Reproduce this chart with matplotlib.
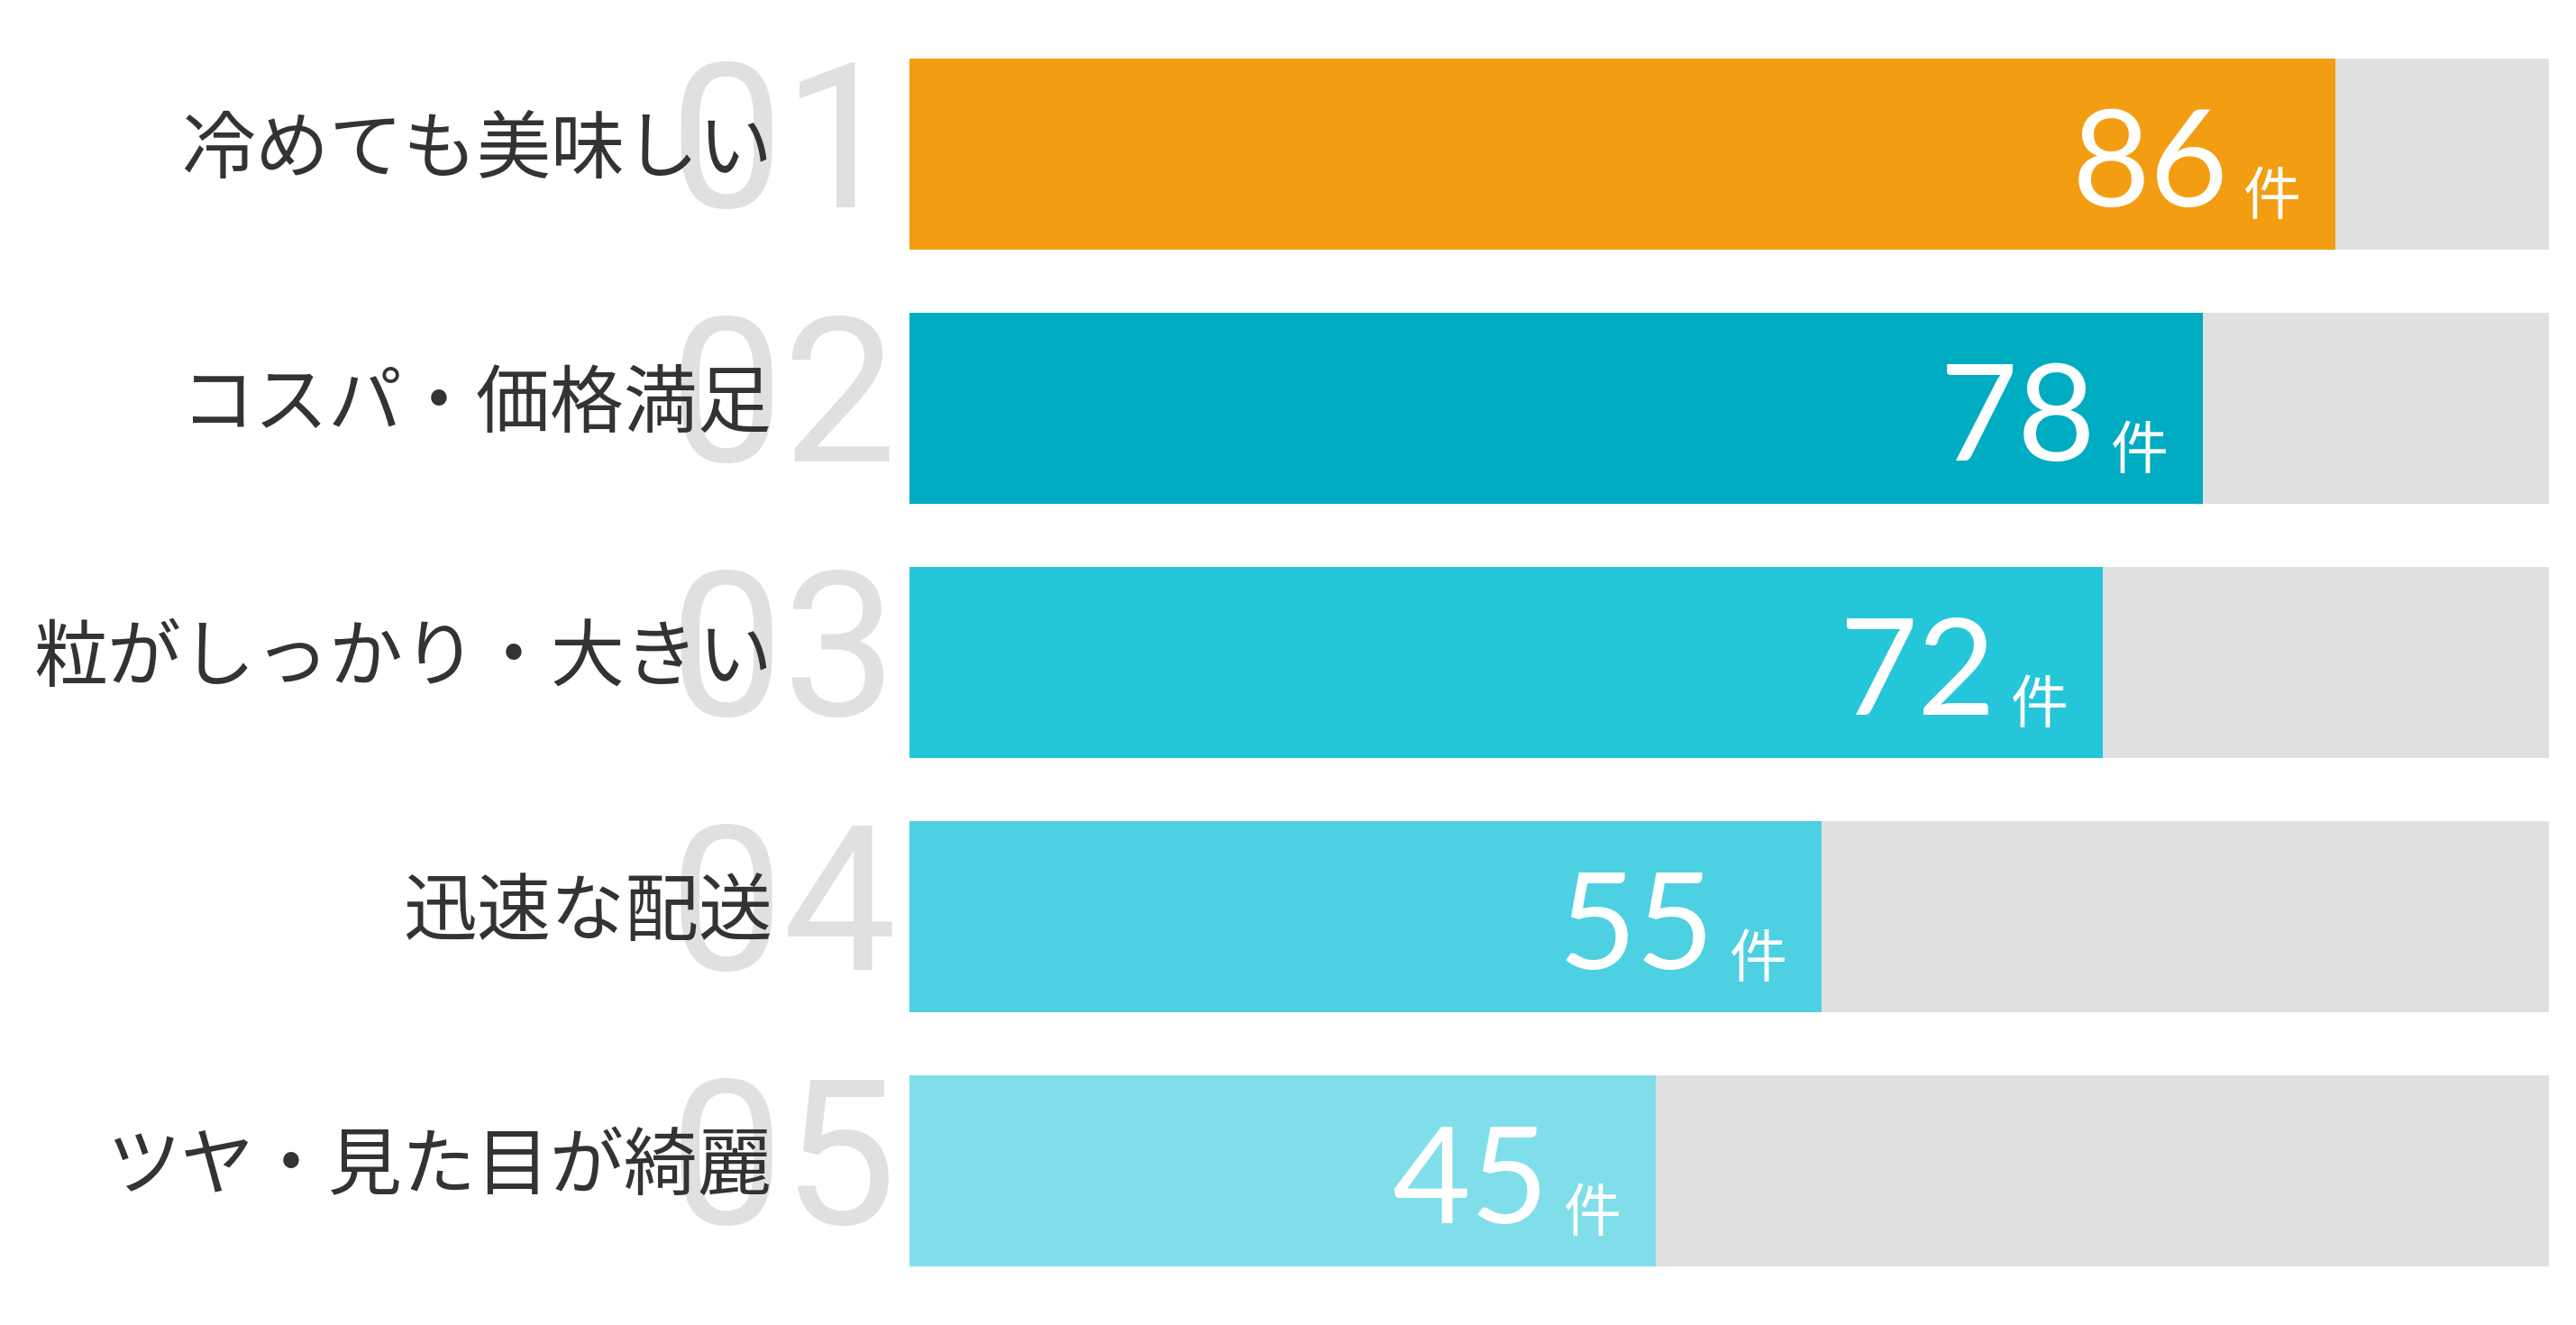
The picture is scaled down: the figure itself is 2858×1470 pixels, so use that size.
import matplotlib
matplotlib.use("Agg")
import matplotlib.pyplot as plt

categories = ["冷めても美味しい", "コスパ・価格満足", "粒がしっかり・大きい", "迅速な配送", "ツヤ・見た目が綺麗"]
ranks = ["01", "02", "03", "04", "05"]
values = [86, 78, 72, 55, 45]
unit = "件"
track_max = 98.9
colors = ["#F39D12", "#00ACC1", "#26C6DA", "#4DD0E1", "#80DEEA"]
track_color = "#E0E0E0"

W, H, DPI = 2858, 1470, 100
fig = plt.figure(figsize=(W / DPI, H / DPI), dpi=DPI)
fig.patch.set_facecolor("white")

px = 72.0 / DPI  # points per pixel

left_px, right_px = 1009, 2828
top_px, bottom_px = 65, 1405
ax = fig.add_axes([left_px / W, 1 - bottom_px / H, (right_px - left_px) / W, (bottom_px - top_px) / H])

bar_h = 212 / 282
ys = list(range(len(values)))
ax.barh(ys, [track_max] * len(values), height=bar_h, color=track_color, zorder=1)
ax.barh(ys, values, height=bar_h, color=colors, zorder=2)
ax.set_xlim(0, track_max)
ax.set_ylim(len(values) - 1 + bar_h / 2, -bar_h / 2)
ax.axis("off")

rank_font = ["Roboto", "DejaVu Sans"]
num_font = ["Lato", "DejaVu Sans"]
jp_font = ["Noto Sans CJK JP", "DejaVu Sans"]

for i, (cat, rk, v) in enumerate(zip(categories, ranks, values)):
    # big rank number
    ax.annotate(rk, xy=(0, i), xycoords="data", xytext=(-14 * px, -59 * px), textcoords="offset points",
                ha="right", va="baseline", fontsize=162, color="#E0E0E0", family=rank_font,
                fontweight="normal", annotation_clip=False, zorder=3)
    # category label
    ax.annotate(cat, xy=(0, i), xycoords="data", xytext=(-152 * px, 4 * px), textcoords="offset points",
                ha="right", va="center", fontsize=59, color="#333333", family=jp_font,
                annotation_clip=False, zorder=4)
    # value
    ax.annotate(str(v), xy=(v, i), xycoords="data", xytext=(-118 * px, -58 * px), textcoords="offset points",
                ha="right", va="baseline", fontsize=108, color="white", family=num_font,
                annotation_clip=False, zorder=5)
    ax.annotate(unit, xy=(v, i), xycoords="data", xytext=(-38 * px, -67 * px), textcoords="offset points",
                ha="right", va="baseline", fontsize=46, color="white", family=jp_font,
                annotation_clip=False, zorder=5)

fig.savefig("out.png", dpi=DPI, facecolor="white")
